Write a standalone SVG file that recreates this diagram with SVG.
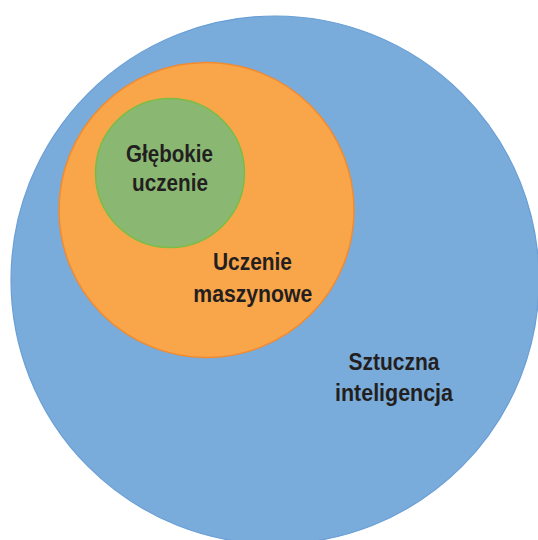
<svg xmlns="http://www.w3.org/2000/svg" width="538" height="540" viewBox="0 0 538 540">
<style>
.lbl{font-family:"Liberation Sans","Arial",sans-serif;font-weight:bold;font-size:24px;fill:#231f20;text-anchor:middle}
</style>
<rect width="538" height="540" fill="#ffffff"/>
<g id="ai">
<circle cx="275" cy="280" r="264" fill="#7aacdb" stroke="#6a9fd6" stroke-width="1.2"/>
<text class="lbl" x="394" y="370" textLength="91" lengthAdjust="spacingAndGlyphs">Sztuczna</text>
<text class="lbl" x="394" y="400.5" textLength="118" lengthAdjust="spacingAndGlyphs">inteligencja</text>
</g>
<g id="ml">
<circle cx="206.5" cy="210" r="147.5" fill="#f9a64b" stroke="#f28a2e" stroke-width="1.5"/>
<text class="lbl" x="252.5" y="269.5" textLength="79" lengthAdjust="spacingAndGlyphs">Uczenie</text>
<text class="lbl" x="252.8" y="301.5" textLength="119" lengthAdjust="spacingAndGlyphs">maszynowe</text>
</g>
<g id="dl">
<circle cx="170" cy="173" r="74.5" fill="#8ab873" stroke="#7bbd44" stroke-width="1.5"/>
<text class="lbl" x="169.5" y="161.5" textLength="87" lengthAdjust="spacingAndGlyphs">Głębokie</text>
<text class="lbl" x="170" y="191.3" textLength="76" lengthAdjust="spacingAndGlyphs">uczenie</text>
</g>
<g id="connectors"/>
</svg>
